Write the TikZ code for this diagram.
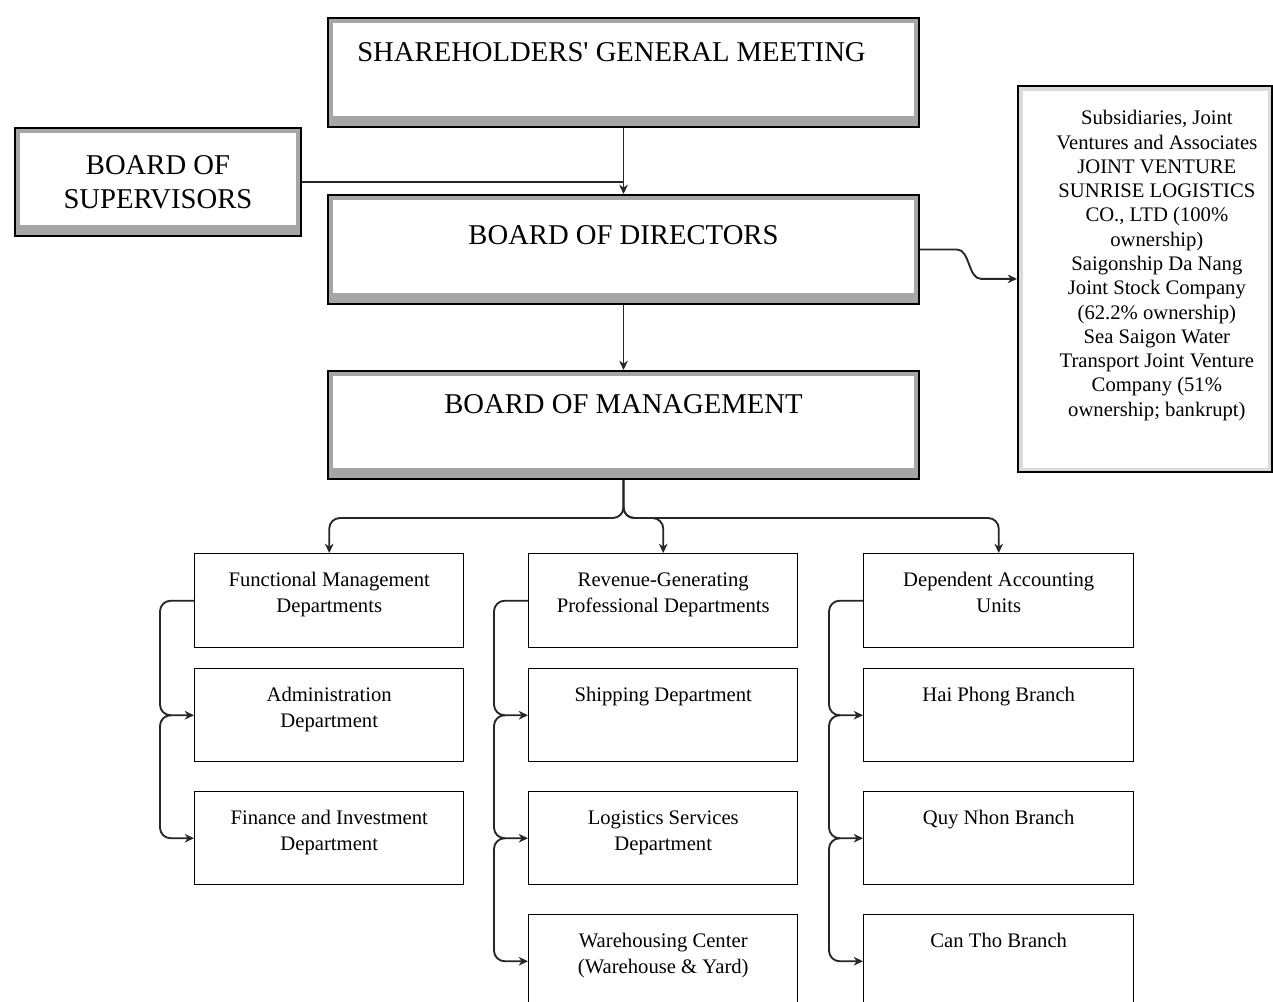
\documentclass[tikz,border=0pt]{standalone}
\usepackage{fontspec}
\setmainfont{Liberation Serif}
\usetikzlibrary{arrows.meta,calc}
\newdimen\pxu \pxu=0.75pt
% box body: width, height, first-baseline offset, text (all in px units)
\newcommand\boxtext[4]{\parbox[t][#2\pxu][t]{#1\pxu}{\centering\rule{0pt}{#3\pxu}#4}}
\begin{document}
\begin{tikzpicture}[x=0.75pt,y=-0.75pt,
  bigbox/.style={draw=black, line width=1.5pt, fill=black!35, inner sep=0pt, anchor=north west,
    font=\fontsize{21.5}{25.5}\selectfont,
    path picture={\fill[white] ([xshift=4pt,yshift=-4pt]path picture bounding box.north west)
      rectangle ([xshift=-4pt,yshift=8pt]path picture bounding box.south east);}},
  subbox/.style={draw=black, line width=1.3pt, fill=black!14, inner sep=0pt, anchor=north west,
    font=\fontsize{15.5}{18.2}\selectfont,
    path picture={\fill[white] ([xshift=3.5pt,yshift=-3.5pt]path picture bounding box.north west)
      rectangle ([xshift=-3pt,yshift=3pt]path picture bounding box.south east);}},
  unitbox/.style={draw=black, line width=1.1pt, fill=white, inner sep=0pt, anchor=north west,
    font=\fontsize{15.5}{19.5}\selectfont},
  link/.style={draw=black!85, line width=1.4pt},
  arr/.style={-{Stealth[length=7pt,width=6.5pt]}},
  brace/.style={link, arr, rounded corners=8pt}]

\useasboundingbox (0,0) rectangle (1273,1001);
\clip (0,0) rectangle (1273,1001);
\fill[white] (0,0) rectangle (1273,1001);

% governance bodies
\node[bigbox] (sgm) at (327,17) {\boxtext{591}{109}{43}{\rightskip=24\pxu plus 1fil
  SHAREHOLDERS\textquotesingle{} GENERAL MEETING}};
\node[bigbox] (bos) at (14,127) {\boxtext{286}{108}{46}{BOARD OF\\SUPERVISORS}};
\node[bigbox] (bod) at (327,194) {\boxtext{591}{109}{49}{BOARD OF DIRECTORS}};
\node[bigbox] (bom) at (327,370) {\boxtext{591}{108}{42}{BOARD OF MANAGEMENT}};

% subsidiaries
\node[subbox] (sub) at (1017,85) {\boxtext{254}{386}{39}{\leftskip=24\pxu plus 1fil
  Subsidiaries, Joint\\Ventures and Associates\\JOINT VENTURE\\SUNRISE LOGISTICS\\CO., LTD (100\%\\ownership)\\Saigonship Da Nang\\Joint Stock Company\\(62.2\% ownership)\\Sea Saigon Water\\Transport Joint Venture\\Company (51\%\\ownership; bankrupt)}};

% functional management column
\node[unitbox] (fn)  at (194,553) {\boxtext{269}{94}{33}{Functional Management\\Departments}};
\node[unitbox] (adm) at (194,668) {\boxtext{269}{93}{33}{Administration\\Department}};
\node[unitbox] (fin) at (194,791) {\boxtext{269}{93}{33}{Finance and Investment\\Department}};

% revenue-generating column
\node[unitbox] (rev)  at (528,553) {\boxtext{269}{94}{33}{Revenue-Generating\\Professional Departments}};
\node[unitbox] (ship) at (528,668) {\boxtext{269}{93}{33}{Shipping Department}};
\node[unitbox] (logi) at (528,791) {\boxtext{269}{93}{33}{Logistics Services\\Department}};
\node[unitbox] (wh)   at (528,914) {\boxtext{269}{93}{33}{Warehousing Center\\(Warehouse \& Yard)}};

% dependent accounting column
\node[unitbox] (dep) at (863,553) {\boxtext{270}{94}{33}{Dependent Accounting\\Units}};
\node[unitbox] (hp)  at (863,668) {\boxtext{270}{93}{33}{Hai Phong Branch}};
\node[unitbox] (qn)  at (863,791) {\boxtext{270}{93}{33}{Quy Nhon Branch}};
\node[unitbox] (ct)  at (863,914) {\boxtext{270}{93}{33}{Can Tho Branch}};

% top chain
\draw[link,arr] (sgm.south) -- (bod.north);
\draw[link] (bos.east) -- (bos.east -| sgm.south);
\draw[link,arr] (bod.south) -- (bom.north);
\draw[link,arr] (bod.east) -- ++(37,0) .. controls +(13,0) and +(-13,0) .. ($(sub.west)+(-36,0)$) -- (sub.west);

% fan-out from the board of management
\coordinate (fork) at ($(bom.south)+(0,38)$);
\draw[brace] (bom.south) -- (fork) -| (fn.north);
\draw[brace] (bom.south) -- (fork) -| (rev.north);
\draw[brace] (bom.south) -- (fork) -| (dep.north);

% side brackets inside each column
\draw[brace] (fn.west) -- ++(-34,0) |- (adm.west);
\draw[brace] ($(adm.west)+(-23,0)$) -- ++(-11,0) |- (fin.west);

\draw[brace] (rev.west) -- ++(-34,0) |- (ship.west);
\draw[brace] ($(ship.west)+(-23,0)$) -- ++(-11,0) |- (logi.west);
\draw[brace] ($(logi.west)+(-23,0)$) -- ++(-11,0) |- (wh.west);

\draw[brace] (dep.west) -- ++(-34,0) |- (hp.west);
\draw[brace] ($(hp.west)+(-23,0)$) -- ++(-11,0) |- (qn.west);
\draw[brace] ($(qn.west)+(-23,0)$) -- ++(-11,0) |- (ct.west);
\end{tikzpicture}
\end{document}
